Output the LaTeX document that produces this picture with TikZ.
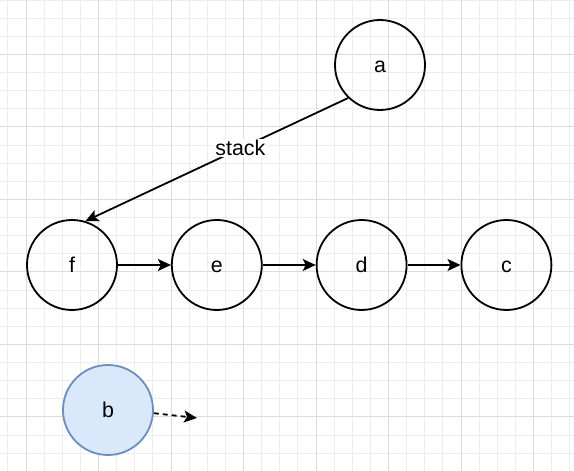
\documentclass[tikz,border=0pt]{standalone}
\usepackage{fontspec}
\setmainfont{Liberation Sans}
\usetikzlibrary{arrows.meta,positioning}
\definecolor{heldfill}{HTML}{DAE8FC}
\definecolor{heldline}{HTML}{6C8EBF}

\begin{document}
\begin{tikzpicture}[x=1pt,y=1pt,>={Stealth[length=13pt,width=12pt,inset=3pt]},
    font=\fontsize{21.4}{25}\selectfont,node distance=53pt,
    vertex/.style={circle,draw,line width=1.8pt,minimum size=90pt,inner sep=0pt,
      text height=16pt,text depth=1.2pt},
    held/.style={vertex,draw=heldline,fill=heldfill},
    link/.style={->,line width=1.8pt}]
  \useasboundingbox (0,0) rectangle (574,471);
  \clip (0,0) rectangle (574,471);
  % background grid
  \draw[black!7,line width=1pt,step=18.125pt,shift={(7.875pt,17.75pt)}] (-20,-20) grid (600,480);
  \draw[black!14,line width=1pt,step=72.5pt,shift={(26pt,54pt)}] (-80,-80) grid (600,480);
  % list
  \node[vertex] (f) at (72,206) {f};
  \node[vertex,right=of f] (e) {e};
  \node[vertex,right=of e] (d) {d};
  \node[vertex,right=of d] (c) {c};
  \node[vertex] (a) at (380,406) {a};
  \node[held] (b) at (108,61) {b};
  \coordinate (bnext) at (197,53);
  \draw[link] (f) -- (e);
  \draw[link] (e) -- (d);
  \draw[link] (d) -- (c);
  \draw[link] (a.226) -- (f.73) node[pos=0.41,fill=white,inner sep=1pt,text height=15pt,text depth=1pt] {stack};
  \draw[link,dash pattern=on 5pt off 4pt] (b.-4) -- (bnext);
\end{tikzpicture}
\end{document}
